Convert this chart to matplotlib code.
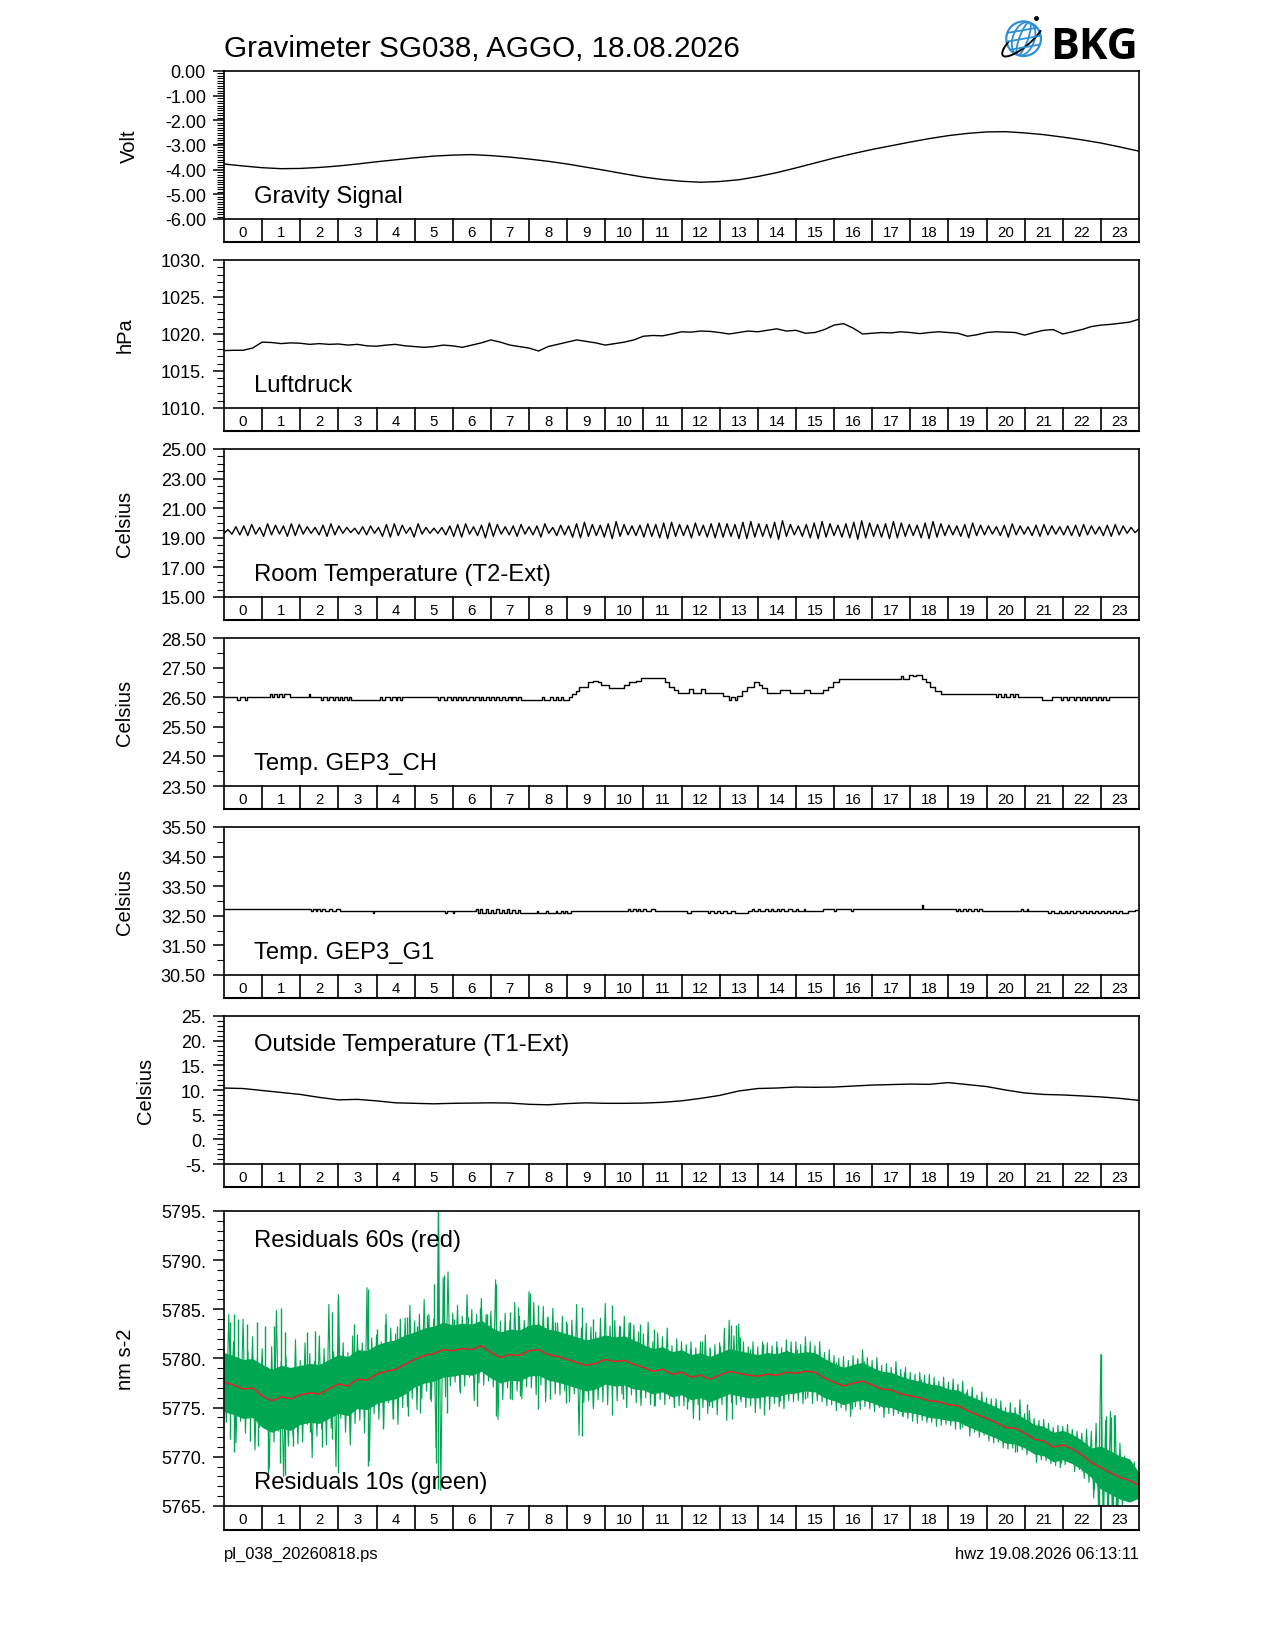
import numpy as np
import matplotlib
matplotlib.use('Agg')
import matplotlib.pyplot as plt
from matplotlib.ticker import FixedLocator, FormatStrFormatter
from matplotlib.patches import Circle, Ellipse, Arc

plt.rcParams['font.family'] = ['Liberation Sans', 'DejaVu Sans']

# ---------------- data ----------------
hours = list(range(24))

# gravity signal, Volt, every 30 min
volt = [-3.77, -3.85, -3.92, -3.96, -3.95, -3.91, -3.85, -3.77, -3.68, -3.60,
        -3.52, -3.45, -3.41, -3.39, -3.43, -3.49, -3.57, -3.66, -3.77, -3.90,
        -4.03, -4.17, -4.30, -4.40, -4.47, -4.51, -4.48, -4.41, -4.28, -4.12,
        -3.93, -3.73, -3.53, -3.35, -3.18, -3.03, -2.88, -2.74, -2.62, -2.53,
        -2.47, -2.46, -2.51, -2.58, -2.68, -2.79, -2.92, -3.08, -3.25]

# air pressure, hPa, every 15 min
pressure = [1017.75, 1017.8, 1017.8, 1018.1, 1018.9, 1018.85, 1018.7, 1018.8,
            1018.75, 1018.6, 1018.7, 1018.6, 1018.65, 1018.5, 1018.6, 1018.4,
            1018.35, 1018.5, 1018.6, 1018.4, 1018.3, 1018.2, 1018.3, 1018.5,
            1018.4, 1018.2, 1018.5, 1018.8, 1019.2, 1018.9, 1018.5, 1018.3,
            1018.1, 1017.7, 1018.3, 1018.6, 1018.9, 1019.2, 1019.0, 1018.8,
            1018.5, 1018.7, 1018.9, 1019.2, 1019.7, 1019.8, 1019.75, 1020.0,
            1020.3, 1020.25, 1020.4, 1020.35, 1020.2, 1020.0, 1020.2, 1020.4,
            1020.3, 1020.5, 1020.7, 1020.4, 1020.5, 1020.1, 1020.2, 1020.6,
            1021.2, 1021.4, 1020.8, 1020.0, 1020.1, 1020.2, 1020.15, 1020.3,
            1020.2, 1020.05, 1020.2, 1020.3, 1020.2, 1020.1, 1019.7, 1019.9,
            1020.2, 1020.3, 1020.25, 1020.2, 1019.85, 1020.2, 1020.5, 1020.6,
            1020.0, 1020.3, 1020.6, 1021.0, 1021.2, 1021.3, 1021.45, 1021.6,
            1022.0]

# room temperature: successive troughs and peaks of the oscillation
room_peaks = [19.55, 19.75, 19.8, 19.9, 19.7, 19.95, 19.85, 19.8, 19.95, 19.9,
              19.75, 19.7, 19.85, 19.95, 19.8, 19.7, 19.65, 19.75, 19.8, 19.7,
              19.9, 19.95, 19.85, 19.7, 19.95, 19.7, 19.65, 19.7, 19.8, 19.9,
              19.95, 19.75, 19.85, 20.0, 19.9, 19.75, 19.8, 19.9, 19.75, 19.8,
              19.95, 19.7, 19.85, 19.8, 19.95, 20.05, 19.9, 19.85, 19.95, 20.1,
              19.9, 19.8, 19.85, 19.95, 19.9, 20.0, 20.05, 19.9, 19.85, 20.0,
              19.85, 19.95, 20.0, 19.95, 19.9, 20.05, 20.1, 19.95, 19.9, 20.05,
              20.15, 19.9, 19.8, 19.9, 20.0, 20.1, 19.95, 19.85, 19.95, 20.05,
              20.15, 20.0, 19.9, 19.95, 20.1, 20.0, 19.9, 19.85, 20.0, 20.1,
              19.95, 19.85, 19.8, 19.9, 20.0, 19.85, 19.8, 19.75, 19.85, 19.95,
              19.8, 19.75, 19.85, 19.9, 19.8, 19.75, 19.8, 19.85, 19.9, 19.8,
              19.75, 19.85, 19.9, 19.8, 19.7, 19.6]
room_troughs = [19.3, 19.25, 19.2, 19.15, 19.25, 19.1, 19.2, 19.25, 19.1, 19.15,
                19.25, 19.3, 19.2, 19.1, 19.2, 19.3, 19.35, 19.25, 19.2, 19.3,
                19.1, 19.05, 19.15, 19.3, 19.05, 19.25, 19.3, 19.3, 19.2, 19.1,
                19.05, 19.25, 19.15, 19.0, 19.1, 19.25, 19.2, 19.1, 19.25, 19.2,
                19.05, 19.3, 19.15, 19.2, 19.05, 19.0, 19.1, 19.15, 19.05, 18.95,
                19.1, 19.2, 19.15, 19.05, 19.1, 19.0, 18.95, 19.1, 19.15, 19.0,
                19.15, 19.05, 19.0, 19.05, 19.1, 18.95, 18.95, 19.05, 19.1, 19.0,
                18.9, 19.1, 19.2, 19.1, 19.0, 18.95, 19.05, 19.15, 19.05, 19.0,
                18.9, 19.0, 19.1, 19.05, 18.95, 19.0, 19.1, 19.15, 19.0, 18.95,
                19.05, 19.15, 19.2, 19.1, 19.0, 19.15, 19.2, 19.25, 19.15, 19.05,
                19.2, 19.25, 19.15, 19.1, 19.2, 19.25, 19.2, 19.15, 19.1, 19.2,
                19.25, 19.15, 19.1, 19.2, 19.3, 19.35]

# GEP3_CH temperature, (hour, value) change points
ch_steps = [
    (0.00, 26.50), (0.35, 26.40), (0.42, 26.50), (0.55, 26.40), (0.61, 26.50),
    (1.20, 26.60), (1.26, 26.50), (1.32, 26.60), (1.38, 26.50), (1.44, 26.60),
    (1.52, 26.50), (1.58, 26.60), (1.72, 26.50), (2.22, 26.60), (2.26, 26.50),
    (2.55, 26.40), (2.60, 26.50), (2.70, 26.40), (2.75, 26.50), (2.85, 26.40),
    (2.90, 26.50), (2.98, 26.40), (3.03, 26.50), (3.10, 26.40), (3.15, 26.50),
    (3.22, 26.40), (3.27, 26.50), (3.33, 26.40), (4.10, 26.50), (4.15, 26.40),
    (4.22, 26.50), (4.35, 26.40), (4.40, 26.50), (4.50, 26.40), (4.55, 26.50),
    (4.62, 26.40), (4.66, 26.50), (5.60, 26.40), (5.66, 26.50), (5.78, 26.40),
    (5.84, 26.50), (5.95, 26.40), (6.00, 26.50), (6.08, 26.40), (6.14, 26.50),
    (6.22, 26.40), (6.28, 26.50), (6.36, 26.40), (6.42, 26.50), (6.52, 26.40),
    (6.58, 26.50), (6.68, 26.40), (6.73, 26.50), (6.80, 26.40), (6.86, 26.50),
    (6.95, 26.40), (7.00, 26.50), (7.08, 26.40), (7.14, 26.50), (7.22, 26.40),
    (7.28, 26.50), (7.38, 26.40), (7.44, 26.50), (7.52, 26.40), (7.56, 26.50),
    (7.66, 26.40), (7.70, 26.50), (7.80, 26.40), (8.35, 26.50), (8.40, 26.40),
    (8.55, 26.50), (8.62, 26.40), (8.70, 26.50), (8.76, 26.40), (8.84, 26.50),
    (8.90, 26.40), (9.05, 26.50), (9.12, 26.60), (9.22, 26.70), (9.32, 26.85),
    (9.55, 27.00), (9.68, 27.05), (9.80, 27.00), (9.90, 26.90), (10.10, 26.80),
    (10.48, 26.90), (10.62, 27.00), (10.80, 27.05), (10.95, 27.15), (11.58, 27.00),
    (11.68, 26.85), (11.80, 26.75), (11.92, 26.65), (12.20, 26.78), (12.30, 26.65),
    (12.50, 26.78), (12.62, 26.65), (13.08, 26.55), (13.25, 26.40), (13.30, 26.50),
    (13.40, 26.40), (13.45, 26.55), (13.58, 26.70), (13.72, 26.85), (13.90, 27.00),
    (14.02, 26.90), (14.10, 26.80), (14.25, 26.65), (14.58, 26.75), (14.85, 26.65),
    (15.20, 26.75), (15.36, 26.65), (15.70, 26.75), (15.85, 26.85), (15.98, 27.00),
    (16.12, 27.10), (17.75, 27.22), (17.80, 27.12), (17.98, 27.25), (18.08, 27.20),
    (18.16, 27.25), (18.30, 27.12), (18.42, 27.00), (18.52, 26.85), (18.66, 26.70),
    (18.80, 26.62), (20.25, 26.50), (20.30, 26.62), (20.38, 26.50), (20.45, 26.62),
    (20.52, 26.50), (20.62, 26.62), (20.70, 26.50), (20.75, 26.62), (20.82, 26.50),
    (21.45, 26.40), (21.72, 26.50), (21.95, 26.40), (22.00, 26.50), (22.10, 26.40),
    (22.16, 26.50), (22.30, 26.40), (22.36, 26.50), (22.45, 26.40), (22.50, 26.50),
    (22.58, 26.40), (22.64, 26.50), (22.72, 26.40), (22.78, 26.50), (22.86, 26.40),
    (22.92, 26.50), (23.00, 26.40), (23.06, 26.50), (23.14, 26.40), (23.20, 26.50),
    (24.00, 26.50)]

# GEP3_G1 temperature, (hour, value) change points
g1_steps = [
    (0.00, 32.74), (2.28, 32.66), (2.33, 32.74), (2.40, 32.66), (2.45, 32.74),
    (2.52, 32.66), (2.58, 32.74), (2.66, 32.66), (2.75, 32.74), (2.82, 32.66),
    (2.95, 32.74), (3.05, 32.66), (3.90, 32.58), (3.93, 32.66), (5.80, 32.58),
    (5.84, 32.66), (6.00, 32.58), (6.04, 32.66), (6.60, 32.74), (6.65, 32.60),
    (6.72, 32.74), (6.78, 32.60), (6.86, 32.72), (6.92, 32.60), (7.00, 32.70),
    (7.06, 32.60), (7.14, 32.72), (7.20, 32.60), (7.28, 32.70), (7.34, 32.60),
    (7.42, 32.72), (7.48, 32.60), (7.56, 32.70), (7.62, 32.60), (7.70, 32.70),
    (7.76, 32.60), (8.20, 32.66), (8.24, 32.60), (8.45, 32.66), (8.49, 32.60),
    (8.70, 32.66), (8.74, 32.60), (8.85, 32.66), (8.90, 32.60), (8.95, 32.66),
    (9.00, 32.60), (9.10, 32.66), (10.60, 32.74), (10.66, 32.66), (10.72, 32.74),
    (10.80, 32.66), (10.86, 32.74), (10.92, 32.66), (11.00, 32.74), (11.08, 32.66),
    (11.20, 32.74), (11.30, 32.66), (12.15, 32.58), (12.25, 32.66), (12.70, 32.60),
    (12.76, 32.66), (12.85, 32.60), (12.92, 32.66), (13.00, 32.60), (13.10, 32.66),
    (13.20, 32.60), (13.30, 32.66), (13.40, 32.60), (13.75, 32.66), (13.85, 32.74),
    (13.90, 32.66), (14.00, 32.74), (14.05, 32.66), (14.20, 32.74), (14.26, 32.66),
    (14.35, 32.74), (14.40, 32.66), (14.50, 32.74), (14.56, 32.66), (14.62, 32.74),
    (14.70, 32.66), (14.80, 32.74), (14.90, 32.66), (15.00, 32.74), (15.06, 32.66),
    (15.20, 32.74), (15.25, 32.66), (15.70, 32.74), (16.00, 32.66), (16.04, 32.74),
    (16.45, 32.66), (16.50, 32.74), (18.30, 32.86), (18.33, 32.74), (19.20, 32.66),
    (19.25, 32.74), (19.30, 32.66), (19.38, 32.74), (19.45, 32.66), (19.52, 32.74),
    (19.60, 32.66), (19.66, 32.74), (19.74, 32.66), (19.80, 32.74), (19.88, 32.66),
    (20.90, 32.74), (20.95, 32.66), (21.05, 32.74), (21.10, 32.66), (21.60, 32.58),
    (21.70, 32.66), (21.76, 32.58), (21.90, 32.66), (21.95, 32.58), (22.05, 32.66),
    (22.12, 32.58), (22.20, 32.66), (22.28, 32.58), (22.36, 32.66), (22.44, 32.58),
    (22.52, 32.66), (22.60, 32.58), (22.68, 32.66), (22.76, 32.58), (22.84, 32.66),
    (22.92, 32.58), (23.00, 32.66), (23.08, 32.58), (23.16, 32.66), (23.24, 32.58),
    (23.32, 32.66), (23.40, 32.58), (23.48, 32.66), (23.56, 32.58), (23.70, 32.66),
    (23.90, 32.70), (24.00, 32.70)]

# outside temperature, every 30 min
outside = [10.4, 10.3, 9.9, 9.5, 9.1, 8.5, 8.0, 8.1, 7.8, 7.4, 7.3, 7.2, 7.3,
           7.35, 7.4, 7.35, 7.1, 7.0, 7.25, 7.4, 7.3, 7.3, 7.35, 7.5, 7.8, 8.3,
           8.9, 9.8, 10.3, 10.4, 10.6, 10.55, 10.6, 10.8, 11.0, 11.1, 11.2,
           11.15, 11.5, 11.1, 10.7, 10.0, 9.4, 9.1, 9.0, 8.8, 8.6, 8.3, 7.9]

# residuals 60 s (red), every 15 min
res60 = [5777.6, 5777.3, 5776.9, 5777.0, 5776.2, 5775.7, 5776.1, 5775.9, 5776.3,
         5776.5, 5776.4, 5776.9, 5777.4, 5777.2, 5777.9, 5777.8, 5778.4, 5778.7,
         5778.9, 5779.4, 5779.9, 5780.3, 5780.5, 5780.9, 5780.8, 5781.0, 5780.9,
         5781.3, 5780.6, 5780.1, 5780.4, 5780.3, 5780.8, 5780.9, 5780.4, 5780.2,
         5779.9, 5779.6, 5779.3, 5779.5, 5779.9, 5779.7, 5779.8, 5779.4, 5779.1,
         5778.7, 5778.9, 5778.4, 5778.6, 5778.1, 5778.3, 5777.9, 5778.3, 5778.7,
         5778.5, 5778.3, 5778.2, 5778.4, 5778.3, 5778.6, 5778.5, 5778.7, 5778.6,
         5778.0, 5777.6, 5777.2, 5777.5, 5777.7, 5777.3, 5776.9, 5776.8, 5776.4,
         5776.2, 5776.0, 5775.7, 5775.6, 5775.3, 5775.2, 5774.7, 5774.3, 5773.9,
         5773.5, 5773.0, 5772.9, 5772.4, 5771.8, 5771.6, 5771.0, 5771.2, 5770.8,
         5770.2, 5769.4, 5768.9, 5768.4, 5767.9, 5767.6, 5767.1]

# residuals 10 s (green): half width of the dense scatter per hour (hours 0..24)
res10_core = [3.0, 3.2, 3.0, 3.0, 3.0, 2.8, 2.6, 2.6, 2.6, 2.6, 2.5, 2.3, 2.3,
              2.3, 2.2, 2.0, 1.9, 1.8, 1.7, 1.6, 1.6, 1.5, 1.5, 2.2, 1.3]

# residuals 10 s (green): scatter about the 60 s curve, 16 samples per hour
res10_dev = [
    [3.2, -4.1, 6.9, -2.8, 4.4, -5.9, 2.6, -3.7, 7.1, -4.5, 3.9, -2.9, 5.2, -6.3, 3.1, -4.0],
    [4.8, -3.3, 2.9, -7.4, 5.5, -4.2, 9.2, -3.1, 3.6, -8.1, 4.1, -5.0, 2.7, -3.9, 6.0, -4.6],
    [3.5, -4.8, 5.3, -3.0, 4.0, -6.6, 3.2, -4.4, 5.9, -3.6, 4.6, -5.2, 8.6, -4.0, 3.8, -7.9],
    [9.1, -3.5, 4.2, -4.9, 3.4, -6.0, 5.1, -3.8, 4.5, -4.2, 3.7, -5.5, 9.4, -8.2, 4.3, -3.4],
    [4.0, -4.6, 3.3, -5.3, 5.8, -3.2, 4.4, -4.8, 3.6, -5.6, 5.1, -3.9, 4.7, -4.3, 6.0, -3.5],
    [3.9, -5.1, 4.6, -4.0, 5.7, -3.6, 4.2, -4.7, 3.5, -9.6, 14.5, -13.9, 7.3, -4.8, 7.9, -3.7],
    [3.8, -3.2, 4.6, -4.1, 3.3, -3.8, 5.5, -2.9, 4.1, -5.2, 3.6, -3.4, 4.8, -4.0, 3.2, -3.6],
    [4.2, -3.5, 7.4, -6.8, 3.7, -4.3, 4.5, -3.1, 3.4, -4.6, 5.3, -3.7, 4.0, -4.4, 3.6, -3.2],
    [6.0, -3.8, 4.9, -4.5, 3.3, -3.6, 4.4, -5.3, 3.8, -3.3, 4.7, -4.0, 3.4, -3.9, 4.1, -3.5],
    [3.6, -4.3, 4.0, -3.5, 5.9, -7.4, 3.5, -4.1, 4.3, -3.6, 3.9, -4.4, 3.2, -3.7, 4.6, -3.9],
    [5.7, -4.6, 3.4, -3.7, 4.2, -4.0, 3.6, -3.3, 4.5, -4.8, 3.8, -3.5, 4.0, -3.9, 3.3, -4.2],
    [3.4, -3.1, 4.6, -3.8, 3.0, -3.5, 3.9, -2.9, 3.3, -3.6, 4.2, -3.0, 2.9, -3.4, 3.6, -3.2],
    [3.1, -3.4, 2.8, -3.0, 3.6, -4.2, 3.0, -2.8, 3.4, -3.3, 4.1, -3.9, 3.2, -2.9, 3.5, -3.6],
    [3.3, -3.0, 4.8, -4.6, 5.2, -3.2, 3.6, -3.4, 5.0, -2.9, 3.2, -3.5, 2.9, -3.1, 3.4, -3.8],
    [3.0, -3.3, 3.5, -2.8, 3.2, -3.6, 2.9, -3.0, 3.4, -3.2, 2.8, -3.4, 3.3, -2.9, 3.1, -3.0],
    [3.2, -2.8, 2.9, -3.1, 3.5, -2.7, 3.0, -3.3, 2.7, -2.9, 3.1, -3.0, 2.6, -2.8, 2.9, -2.7],
    [2.7, -2.9, 2.4, -2.6, 3.0, -2.5, 2.6, -3.1, 2.8, -2.4, 2.5, -2.7, 3.2, -2.6, 2.4, -2.8],
    [2.5, -2.7, 2.8, -2.3, 2.4, -2.9, 2.6, -2.5, 2.3, -2.6, 2.9, -2.4, 2.5, -2.3, 2.7, -2.5],
    [2.4, -2.6, 2.2, -2.8, 2.6, -2.3, 2.3, -2.5, 2.7, -2.2, 2.4, -2.6, 2.1, -2.4, 2.5, -2.3],
    [2.3, -2.1, 2.6, -2.5, 2.2, -2.4, 2.5, -2.0, 2.1, -2.6, 2.4, -2.2, 2.0, -2.3, 2.3, -2.1],
    [2.1, -2.3, 2.0, -2.5, 2.4, -2.0, 2.2, -2.6, 2.0, -2.2, 2.5, -2.1, 2.1, -2.4, 2.9, -2.2],
    [2.0, -2.2, 2.3, -1.9, 2.1, -2.4, 1.9, -2.1, 2.2, -2.0, 1.8, -2.3, 2.0, -1.9, 2.2, -2.1],
    [1.9, -2.0, 2.1, -1.8, 2.0, -2.3, 1.8, -2.1, 2.2, -2.4, 2.6, -2.8, 3.2, -3.6, 4.0, -4.5],
    [11.5, -6.0, 4.8, -5.6, 6.2, -6.5, 5.8, -5.0, 3.5, -2.8, 2.2, -1.9, 2.0, -1.8, 1.9, -1.7],
]

# single green excursions (hour, value)
spikes_up = [(0.16, 5783.7), (0.25, 5784.5), (0.38, 5784.0), (0.60, 5783.5),
             (0.86, 5783.7), (1.08, 5783.3), (1.30, 5783.3), (1.49, 5785.1),
             (1.60, 5782.7), (2.17, 5782.7), (2.39, 5782.8), (2.83, 5784.7),
             (3.00, 5786.1), (3.40, 5783.5), (3.79, 5787.1), (4.01, 5783.0),
             (4.23, 5783.5), (4.53, 5783.3), (4.80, 5784.2), (5.06, 5783.3),
             (5.32, 5784.4), (5.50, 5787.6), (5.60, 5795.0), (5.76, 5788.5),
             (6.02, 5784.0), (6.41, 5784.2), (6.72, 5785.1), (6.89, 5784.5),
             (7.14, 5787.6), (7.50, 5784.7), (7.72, 5785.2), (8.03, 5786.7),
             (8.24, 5785.4), (8.46, 5784.2), (8.68, 5783.7), (8.98, 5783.8),
             (9.39, 5785.2), (9.68, 5784.0), (10.19, 5785.4), (10.38, 5783.3),
             (10.65, 5783.7), (10.91, 5783.5), (11.13, 5781.3), (11.27, 5783.0),
             (11.62, 5780.6), (11.88, 5780.7), (12.23, 5781.0), (12.54, 5781.8),
             (12.76, 5781.0), (13.02, 5781.3), (13.30, 5783.4), (13.44, 5783.4),
             (13.54, 5782.2), (13.80, 5781.0), (14.14, 5781.5), (14.50, 5781.2),
             (14.77, 5780.9), (15.03, 5781.0), (15.25, 5781.3), (15.47, 5780.7),
             (16.04, 5779.6), (16.61, 5779.8), (16.78, 5779.7), (17.22, 5778.6),
             (17.83, 5778.6), (18.27, 5777.9), (19.10, 5777.1), (19.45, 5776.6),
             (19.76, 5775.7), (20.20, 5774.7), (20.63, 5774.2), (21.07, 5775.4),
             (21.60, 5772.5), (22.12, 5771.9), (23.00, 5780.5), (23.13, 5774.2),
             (23.26, 5774.0), (23.35, 5774.3), (23.50, 5769.4), (23.76, 5768.1),
             (23.98, 5768.0)]
spikes_dn = [(0.16, 5771.8), (0.25, 5770.5), (0.30, 5772.8), (0.68, 5771.6),
             (0.90, 5771.1), (1.16, 5768.4), (1.46, 5769.4), (1.60, 5768.2),
             (1.82, 5771.1), (2.26, 5772.5), (2.56, 5771.0), (2.83, 5771.8),
             (3.00, 5768.4), (3.30, 5772.5), (3.79, 5769.1), (4.18, 5772.8),
             (4.44, 5773.8), (4.83, 5774.2), (5.14, 5774.5), (5.40, 5775.9),
             (5.55, 5769.4), (5.60, 5766.7), (5.85, 5774.5), (6.20, 5776.5),
             (6.63, 5775.2), (7.14, 5774.2), (7.50, 5775.9), (7.77, 5776.2),
             (8.24, 5774.9), (8.55, 5775.9), (8.98, 5775.5), (9.39, 5772.1),
             (9.68, 5775.2), (10.19, 5774.3), (10.47, 5775.9), (10.91, 5776.0),
             (11.27, 5775.2), (12.15, 5774.9), (12.46, 5773.7), (12.71, 5775.2),
             (13.33, 5773.8), (13.54, 5775.9), (14.16, 5774.3), (14.59, 5775.7),
             (15.25, 5775.9), (15.55, 5776.2), (16.47, 5774.9), (17.04, 5775.2),
             (17.78, 5774.2), (18.43, 5773.8), (18.82, 5773.8), (19.35, 5773.0),
             (19.93, 5772.5), (20.45, 5771.5), (20.76, 5770.5), (21.42, 5770.1),
             (21.95, 5769.4), (22.50, 5768.6), (22.82, 5766.7), (22.95, 5765.0),
             (23.05, 5765.0), (23.18, 5765.0), (23.30, 5765.0), (23.40, 5765.0),
             (23.68, 5766.2), (23.94, 5766.2)]

# ---------------- layout helpers ----------------
W, H = 1274, 1649
LEFT, RIGHT = 224, 1139


def box(left, top, right, bottom):
    return [left / W, 1 - bottom / H, (right - left) / W, (bottom - top) / H]


fig = plt.figure(figsize=(W / 100, H / 100), dpi=100)

# (top, bottom, strip height, ylim, major step, minor step, fmt, ylabel, label, label y)
panels = [
    (72, 220, 23, (-6, 0), 1, 0.1, '%.2f', 'Volt', 'Gravity Signal', 0.115),
    (261, 409, 23, (1010, 1030), 5, 1, '%d.', 'hPa', 'Luftdruck', 0.115),
    (450, 598, 23, (15, 25), 2, 0.5, '%.2f', 'Celsius', 'Room Temperature (T2-Ext)', 0.115),
    (639, 787, 23, (23.5, 28.5), 1, 0.5, '%.2f', 'Celsius', 'Temp. GEP3_CH', 0.115),
    (828, 976, 23, (30.5, 35.5), 1, 0.5, '%.2f', 'Celsius', 'Temp. GEP3_G1', 0.115),
    (1017, 1165, 23, (-5, 25), 5, 1, '%d.', 'Celsius', 'Outside Temperature (T1-Ext)', 0.772),
    (1212, 1507, 24, (5765, 5795), 5, 1, '%d.', 'nm s-2', None, None),
]

axes = []
for top, bottom, sh, ylim, major, minor, fmt, ylab, label, ly in panels:
    ax = fig.add_axes(box(LEFT, top, RIGHT, bottom))
    ax.set_xlim(0, 24)
    ax.set_ylim(*ylim)
    ax.set_xticks([])
    ax.yaxis.set_major_locator(FixedLocator(np.arange(ylim[0], ylim[1] + 1e-6, major)))
    ax.yaxis.set_minor_locator(FixedLocator(np.arange(ylim[0], ylim[1] + 1e-6, minor)))
    ax.yaxis.set_major_formatter(FormatStrFormatter(fmt))
    ax.tick_params(axis='y', which='major', length=8, width=1.1, direction='out',
                   pad=5, labelsize=13)
    ax.tick_params(axis='y', which='minor', length=5, width=0.8, direction='out')
    for s in ax.spines.values():
        s.set_linewidth(1.2)
    ax.set_ylabel(ylab, fontsize=14.5, labelpad=19)
    if label:
        ax.text(0.033, ly, label, transform=ax.transAxes, fontsize=17.2, va='baseline',
                zorder=5)

    # hour strip under each panel
    sx = fig.add_axes(box(LEFT, bottom, RIGHT, bottom + sh))
    sx.set_xlim(0, 24)
    sx.set_ylim(0, 1)
    sx.axis('off')
    for i in range(25):
        sx.plot([i, i], [0, 1], color='black', lw=1.2, clip_on=False)
    sx.plot([0, 24], [0, 0], color='black', lw=1.5, clip_on=False)
    for i, hh in enumerate(hours):
        sx.text(i + 0.5, 0.45, str(hh), ha='center', va='center', fontsize=10.8)
    axes.append(ax)

line_kw = dict(color='black', lw=1.0)

# gravity signal
axes[0].plot(np.arange(len(volt)) * 0.5, volt, **line_kw)

# pressure
axes[1].plot(np.arange(len(pressure)) * 0.25, pressure, **line_kw)

# room temperature
room = []
for tr, pk in zip(room_troughs, room_peaks):
    room += [tr, pk]
axes[2].plot(np.linspace(0, 24, len(room)), room, **line_kw)

# GEP3 temperatures
for ax, steps in ((axes[3], ch_steps), (axes[4], g1_steps)):
    t = [s[0] for s in steps]
    v = [s[1] for s in steps]
    ax.step(t, v, where='post', **line_kw)

# outside temperature
axes[5].plot(np.arange(len(outside)) * 0.5, outside, **line_kw)

# residuals
green = '#00a651'
red = '#e8202a'
ax = axes[6]
r60 = np.array(res60)
t_red = np.arange(len(res60)) * 0.25
core = np.array(res10_core)[(t_red).astype(int)]
ax.fill_between(t_red, r60 - core, r60 + core, color=green, lw=0)
dev = np.array(res10_dev).ravel()
t10 = np.arange(dev.size) / 16.0
base = r60[np.minimum((t10 * 4).astype(int), len(res60) - 1)]
ax.plot(t10, base + dev, color=green, lw=0.8)
for spikes in (spikes_up, spikes_dn):
    st = np.array([s[0] for s in spikes])
    sv = [s[1] for s in spikes]
    sb = r60[np.round(st * 4).astype(int)]
    ax.vlines(st, sb, sv, color=green, lw=1.0)
ax.plot(t_red, res60, color=red, lw=1.1)
ax.text(0.033, 0.881, 'Residuals 60s (red)', transform=ax.transAxes, fontsize=17.2,
        va='baseline')
ax.text(0.033, 0.061, 'Residuals 10s (green)', transform=ax.transAxes, fontsize=17.2,
        va='baseline')

# title, footer
fig.text(LEFT / W, 1 - 57 / H, 'Gravimeter SG038, AGGO, 18.08.2026', fontsize=21.3,
         va='baseline')
fig.text(LEFT / W, 1 - 1559 / H, 'pl_038_20260818.ps', fontsize=11.9, va='baseline')
fig.text(RIGHT / W, 1 - 1559 / H, 'hwz 19.08.2026 06:13:11', fontsize=11.9,
         va='baseline', ha='right')

# BKG logo
fig.text(1050 / W, 1 - 59 / H, 'BKG', fontfamily='Open Sans', fontweight='bold',
         fontsize=31, va='baseline')
lx = fig.add_axes(box(995, 12, 1047, 64))
lx.set_xlim(-1.5, 1.5)
lx.set_ylim(-1.5, 1.5)
lx.set_aspect('equal')
lx.axis('off')
blue = '#2f8fd4'
globe = Circle((0.15, -0.1), 1.0, fill=False, ec=blue, lw=1.6)
lx.add_patch(globe)
for wdt in (1.25, 0.5):
    e = Ellipse((0.15, -0.1), wdt, 2.0, angle=-20, fill=False, ec=blue, lw=1.3)
    e.set_clip_path(globe)
    lx.add_patch(e)
for yy in (-0.6, -0.1, 0.4):
    ln, = lx.plot([-1.0, 1.3], [yy - 0.2, yy + 0.2], color=blue, lw=1.3)
    ln.set_clip_path(globe)
lx.add_patch(Arc((0.1, -0.1), 3.0, 0.9, angle=40, theta1=150, theta2=345,
                 color='black', lw=1.4))
lx.plot([0.85], [1.1], 'o', color='black', ms=2.5)

plt.savefig('out.png', dpi=100)
